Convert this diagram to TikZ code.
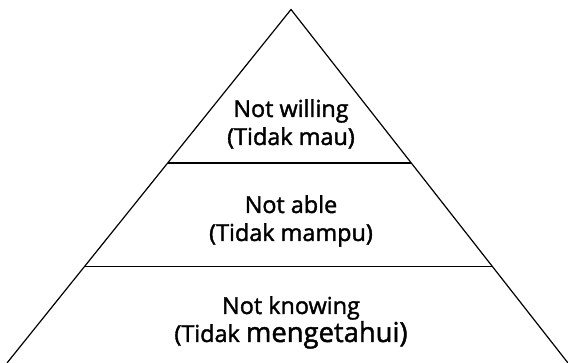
\documentclass[tikz,border=0pt]{standalone}
\usepackage{fontspec}
\setmainfont{Open Sans}
\newfontfamily\levelfont[FakeBold=1.6]{Open Sans}
\usepackage{tikz}
\usetikzlibrary{calc}

\begin{document}
\begin{tikzpicture}[x=1pt, y=1pt,
    edge/.style={line width=1.2pt},
    layer/.style={align=center, anchor=base, inner sep=0pt, font=\levelfont\fontsize{23.4}{28}\selectfont}]
    \useasboundingbox (0,0) rectangle (568,363);

    % Pyramid outline
    \coordinate (top) at (291,353.5);
    \coordinate (bl) at (7,0);
    \coordinate (br) at (568,0);
    \draw[edge] (bl) -- (top) -- (br);

    % Dividers
    \draw[edge] ($(top)!0.434!(bl)$) -- ($(top)!0.434!(br)$);
    \draw[edge] ($(top)!0.728!(bl)$) -- ($(top)!0.728!(br)$);

    % Levels
    \node[layer] (willing) at (291,218) {Not willing\\(Tidak mau)};
    \node[layer] (able) at (291,122) {Not able\\(Tidak mampu)};
    \node[layer] (knowing) at (291,21) {Not knowing\\(Tidak {\fontsize{27.4}{29}\selectfont mengetahui)}};
\end{tikzpicture}
\end{document}
